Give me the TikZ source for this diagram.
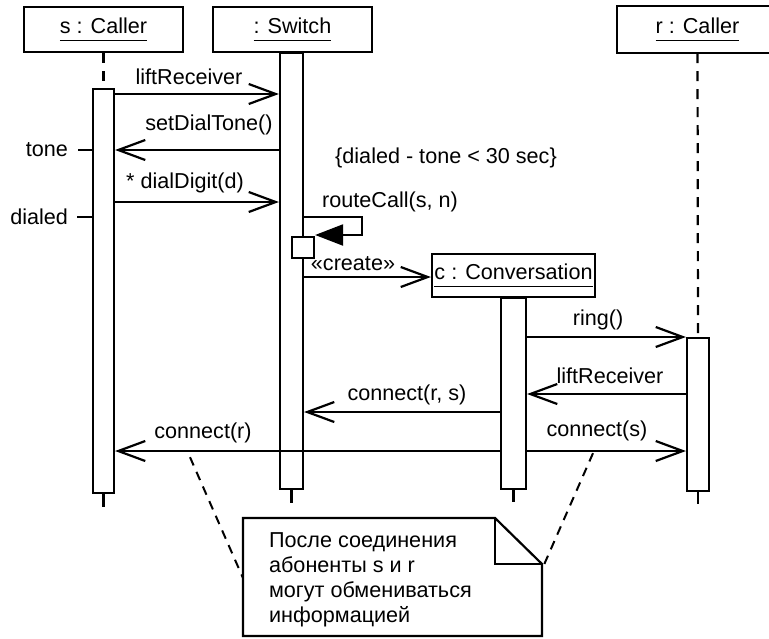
\documentclass[tikz,border=0pt]{standalone}
\usepackage{fontspec}
\setmainfont{Liberation Sans}
\usetikzlibrary{arrows.meta}
\newcommand{\ulbox}[1]{\setbox0\hbox{#1}\leavevmode\rlap{\rule[-3.5pt]{\wd0}{0.5pt}}\box0}
\begin{document}
\begin{tikzpicture}[x=0.5pt,y=-0.5pt,
  font=\fontsize{10.8}{12.5}\selectfont,
  line width=1.1pt,
  head/.style={draw, minimum width=79.5pt, minimum height=22.5pt, inner sep=0},
  bar/.style={draw, fill=white, inner sep=0, anchor=north},
  msg/.style={-{Straight Barb[length=13.5pt,width=10pt]}},
  life/.style={dash pattern=on 5pt off 4pt},
  link/.style={line width=1pt, dash pattern=on 4.5pt off 3.5pt},
  lbl/.style={inner sep=0}]
\clip (0,0) rectangle (769,638);
% heads
\node[head] (sH) at (103.5,29.5) {\ulbox{s : Caller}};
\node[head] (wH) at (292.5,29.5) {\ulbox{: Switch}};
\node[head, draw=none] (rH) at (697.5,29.5) {\ulbox{r : Caller}};
\draw (rH.north east) -- (rH.north west) -- (rH.south west) -- (rH.south east);
% bars
\node[bar, minimum width=10.5pt, minimum height=202pt] (sB) at (103.5,88) {};
\node[bar, minimum width=11.5pt, minimum height=218pt] (wB) at (291.5,52) {};
\node[bar, minimum width=12.5pt, minimum height=95.5pt] (cB) at (513.5,297) {};
\node[bar, minimum width=11pt, minimum height=76.5pt] (rB) at (698,337) {};
\draw[life] (sH.south) -- (sB.north);
\draw[life] (rH.south) -- (rB.north);
\draw (sB.south) -- ++(0,13);
\draw (wB.south) -- ++(0,13);
\draw (cB.south) -- ++(0,12);
\draw (rB.south) -- ++(0,12);
\node[head, minimum width=81.5pt, minimum height=21.5pt, fill=white] (cH) at (513.5,275.5) {\ulbox{c : Conversation}};
\node[draw, fill=white, minimum width=11pt, minimum height=10.5pt, inner sep=0] (sq) at (303,247.5) {};
% labels
\node[lbl] (l1) at (189,77) {liftReceiver};
\node[lbl] (l2) at (209,125) {setDialTone()};
\node[lbl, anchor=east] (tone) at (69,150) {tone};
\node[lbl] (l3) at (185,183) {* dialDigit(d)};
\node[lbl, anchor=east] (dialed) at (69,217) {dialed};
\node[lbl] (cons) at (446,158) {\{dialed - tone < 30 sec\}};
\node[lbl] (l4) at (390,202) {routeCall(s, n)};
\node[lbl] (l5) at (353,264) {«create»};
\node[lbl] (l6) at (598,320) {ring()};
\node[lbl] (l7) at (610,376) {liftReceiver};
\node[lbl] (l8) at (407,395) {connect(r, s)};
\node[lbl] (l9) at (203,433) {connect(r)};
\node[lbl] (l10) at (597,431) {connect(s)};
% ticks
\draw ([xshift=4.5pt]tone.east) -- (sB.west |- tone.east);
\draw ([xshift=4pt]dialed.east) -- (sB.west |- dialed.east);
% messages
\draw[msg] (sB.east |- 0,94) -- (wB.west |- 0,94);
\draw[msg] (wB.west |- 0,150) -- (sB.east |- 0,150);
\draw[msg] (sB.east |- 0,202) -- (wB.west |- 0,202);
\draw[-{Triangle[length=14pt,width=10.5pt]}] (wB.east |- 0,217) -- (362,217) -- (362,235) -- (sq.east |- 0,235);
\draw[msg] (wB.east |- 0,277) -- (cH.west |- 0,277);
\draw[msg] (cB.east |- 0,337) -- (rB.west |- 0,337);
\draw[msg] (rB.west |- 0,394) -- (cB.east |- 0,394);
\draw[msg] (cB.west |- 0,412) -- (wB.east |- 0,412);
\draw[msg] (cB.west |- 0,451) -- (sB.east |- 0,451);
\draw[msg] (cB.east |- 0,451) -- (rB.west |- 0,451);
% note
\coordinate (nA) at (243,518);
\coordinate (nB) at (495,518);
\coordinate (nC) at (542,564);
\coordinate (nD) at (542,636);
\coordinate (nE) at (243,636);
\coordinate (nF) at (495,564);
\draw[fill=white] (nA) -- (nB) -- (nC) -- (nD) -- (nE) -- cycle;
\draw (nB) -- (nF) -- (nC);
\node[lbl, anchor=north west, align=left] (note) at (268,532) {После соединения\\абоненты s и r\\могут обмениваться\\информацией};
\coordinate (nL) at (243,578);
\coordinate (nR) at (543,567);
\draw[link] ([xshift=-6.5pt,yshift=-6.5pt]l9.south) -- (nL);
\draw[link] ([xshift=-2pt,yshift=-5.5pt]l10.south) -- (nR);
\end{tikzpicture}
\end{document}
